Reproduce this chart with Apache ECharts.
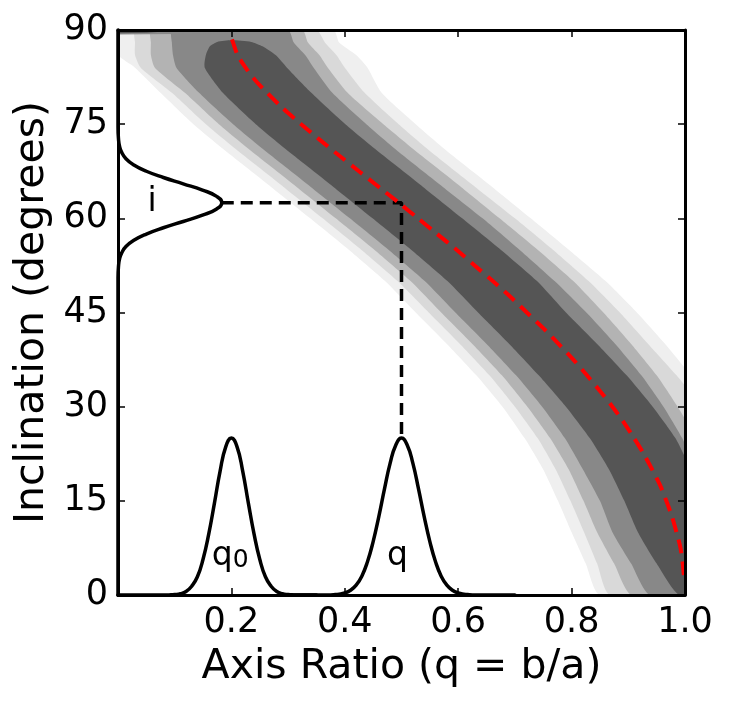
<!DOCTYPE html>
<html><head><meta charset="utf-8">
<script src="https://cdn.jsdelivr.net/npm/echarts@6/dist/echarts.min.js"></script>
<style>html,body{margin:0;padding:0;background:#fff}#c{width:731px;height:704px}</style>
</head><body><div id="c"></div>
<script>
// ---- contour bands (q boundaries at given inclinations) ----
const iRows = [90, 88, 86, 84, 80, 75, 70, 65, 60, 55, 50, 45, 40, 35, 30, 25, 20, 15, 10, 5, 0];
const vlLeft   = [0, 0, 0, .03, .075, .133, .2, .27, .339, .407, .471, .525, .58, .632, .678, .717, .75, .776, .8, .825, .85];
const vlRight  = [.38, .39, .42, .44, .465, .525, .59, .66, .728, .795, .86, .915, .965, 1.01, 1.05, 1.09, 1.12, 1.14, 1.16, 1.17, 1.18];
const ltLeft   = [.03, .03, .03, .04, .095, .155, .222, .292, .361, .429, .493, .548, .603, .655, .7, .74, .772, .798, .822, .845, .868];
const ltRight  = [.35, .365, .385, .40, .435, .495, .56, .63, .70, .767, .83, .885, .935, .985, 1.03, 1.07, 1.1, 1.12, 1.14, 1.15, 1.16];
const mlLeft   = [.058, .058, .058, .065, .118, .178, .245, .315, .384, .452, .516, .57, .625, .677, .722, .762, .795, .821, .845, .875, .906];
const mlRight  = [.325, .335, .355, .37, .405, .468, .535, .605, .673, .74, .803, .856, .905, .95, .987, 1.02, 1.05, 1.08, 1.1, 1.12, 1.13];
const mdLeft   = [.095, .095, .097, .103, .143, .203, .27, .34, .409, .477, .541, .595, .65, .702, .748, .788, .82, .85, .872, .905, .938];
const mdRight  = [.30, .31, .33, .345, .378, .438, .503, .573, .643, .708, .77, .826, .877, .923, .962, .995, 1.02, 1.05, 1.07, 1.08, 1.09];
const darkRows  = [88.4, 88.1, 87.4, 86, 84, 80, 75, 70, 65, 60, 55, 50, 45, 40, 35, 30, 25, 20, 15, 10, 5, 0];
const darkLeft  = [.2, .175, .162, .155, .153, .185, .243, .31, .38, .449, .517, .581, .635, .69, .742, .79, .832, .866, .893, .917, .95, .99];
const darkRight = [.2, .235, .255, .278, .298, .341, .401, .468, .538, .607, .675, .739, .79, .845, .897, .943, .983, 1.01, 1.03, 1.05, 1.06, 1.07];
// thin strip along the top edge
const stripMedQ = [0, .27, .15, 0];
const stripMedI = [90, 90, 89.4, 89.3];
const stripDarkQ = [0, .12, .05, 0];
const stripDarkI = [90, 90, 89.55, 89.5];
const bandColors = ['#efefef', '#d9d9d9', '#b3b3b3', '#888888', '#555555'];

// ---- red dashed relation curve ----
const redQ = [0.201, 0.203, 0.211, 0.225, 0.242, 0.263, 0.291, 0.323, 0.356, 0.39, 0.425, 0.46, 0.495, 0.529, 0.563, 0.597, 0.629, 0.661, 0.692, 0.721, 0.75, 0.777, 0.803, 0.827, 0.85, 0.872, 0.892, 0.91, 0.927, 0.942, 0.956, 0.967, 0.977, 0.985, 0.992, 0.996, 0.999];
const redI = [88.5, 88, 86, 84, 82, 80, 77.5, 75, 72.5, 70, 67.5, 65, 62.5, 60, 57.5, 55, 52.5, 50, 47.5, 45, 42.5, 40, 37.5, 35, 32.5, 30, 27.5, 25, 22.5, 20, 17.5, 15, 12.5, 10, 7.5, 5, 2];

// ---- distribution curves ----
const q0X = [0, .08, .09, .10, .11, .12, .13, .14, .15, .16, .17, .18, .19, .20, .21, .22, .23, .24, .25, .26, .27, .28, .29, .30, .31, .32, .35];
const q0Y = [0, 0, .02, .07, .2, .56, 1.4, 2.9, 5.7, 9.7, 14.6, 19.7, 23.6, 25, 23.6, 19.7, 14.6, 9.7, 5.7, 2.9, 1.4, .56, .2, .07, .02, 0, 0];
const qX = [.30, .36, .37, .38, .39, .40, .41, .42, .43, .44, .45, .46, .47, .48, .49, .50, .51, .52, .53, .54, .55, .56, .57, .58, .59, .60, .61, .62, .63, .64, .70];
const qY = [0, 0, .01, .05, .13, .33, .75, 1.57, 3.0, 5.3, 8.5, 12.5, 16.9, 21.0, 23.9, 25, 23.9, 21.0, 16.9, 12.5, 8.5, 5.3, 3.0, 1.57, .75, .33, .13, .05, .01, 0, 0];
const incI = [0, 50.5, 52.5, 53.5, 54.5, 55.5, 56.5, 57.5, 58.5, 59.5, 60.5, 61.5, 62.5, 63.5, 64.5, 65.5, 66.5, 67.5, 68.5, 69.5, 70.5, 71.5, 72.5, 74.5, 90];
const incX = [0, 0, .001, .0027, .0065, .014, .028, .05, .08, .115, .149, .174, .183, .174, .149, .115, .08, .05, .028, .014, .0065, .0027, .001, 0, 0];
// guide lines
const guideQ = [0.183, 0.5, 0.5];
const guideI = [62.5, 62.5, 25];
// text labels
const labelText = ['i', 'q0', 'q'];
const labelQ = [0.06, 0.198, 0.493];
const labelI = [62.6, 6.1, 6.1];

const xTickLabels = {0: '', 0.2: '0.2', 0.4: '0.4', 0.6: '0.6', 0.8: '0.8', 1: '1.0'};

function bandPoly(rows, left, right) {
  const pts = [];
  for (let k = 0; k < rows.length; k++) pts.push([left[k], rows[k]]);
  for (let k = rows.length - 1; k >= 0; k--) pts.push([right[k], rows[k]]);
  return pts;
}
const polys = [
  {pts: bandPoly(iRows, vlLeft, vlRight), color: bandColors[0], smooth: 0.2},
  {pts: bandPoly(iRows, ltLeft, ltRight), color: bandColors[1], smooth: 0.2},
  {pts: bandPoly(iRows, mlLeft, mlRight), color: bandColors[2], smooth: 0.2},
  {pts: bandPoly(iRows, mdLeft, mdRight), color: bandColors[3], smooth: 0.2},
  {pts: bandPoly(darkRows, darkLeft, darkRight), color: bandColors[4], smooth: 0.2},
  {pts: stripMedQ.map((q, k) => [q, stripMedI[k]]), color: bandColors[3], smooth: 0},
  {pts: stripDarkQ.map((q, k) => [q, stripDarkI[k]]), color: bandColors[4], smooth: 0}
];
const zip = (a, b) => a.map((v, k) => [v, b[k]]);

const FONT = 'DejaVu Sans';
const chart = echarts.init(document.getElementById('c'), null, {renderer: 'canvas'});
const axisCommon = {
  min: 0, axisLine: {show: true, onZero: false, lineStyle: {color: '#000', width: 3}},
  axisTick: {show: true, inside: true, length: 7, lineStyle: {color: '#000', width: 1.5}},
  splitLine: {show: false}, z: 10
};
chart.setOption({
  animation: false,
  backgroundColor: '#fff',
  grid: {left: 118, right: 46, top: 30, bottom: 109, containLabel: false},
  xAxis: [
    Object.assign({}, axisCommon, {type: 'value', position: 'bottom', max: 1, interval: 0.2,
      axisLabel: {show: true, margin: 10, color: '#000', fontFamily: FONT, fontSize: 35,
        formatter: v => (xTickLabels[Math.round(v * 10) / 10] ?? '')},
      name: 'Axis Ratio (q = b/a)', nameLocation: 'middle', nameGap: 52,
      nameTextStyle: {color: '#000', fontFamily: FONT, fontSize: 41}}),
    Object.assign({}, axisCommon, {type: 'value', position: 'top', max: 1, interval: 0.2, axisLabel: {show: false}})
  ],
  yAxis: [
    Object.assign({}, axisCommon, {type: 'value', position: 'left', max: 90, interval: 15,
      axisLabel: {show: true, margin: 10, color: '#000', fontFamily: FONT, fontSize: 35},
      name: 'Inclination (degrees)', nameLocation: 'middle', nameGap: 59, nameRotate: 90,
      nameTextStyle: {color: '#000', fontFamily: FONT, fontSize: 41}}),
    Object.assign({}, axisCommon, {type: 'value', position: 'right', max: 90, interval: 15, axisLabel: {show: false}})
  ],
  series: [
    {
      type: 'custom', silent: true, clip: true, z: 1,
      data: polys.map((p, k) => [0, 0, k]),
      renderItem: (params, api) => {
        const p = polys[params.dataIndex];
        return {type: 'polygon', shape: {points: p.pts.map(pt => api.coord(pt)), smooth: p.smooth},
          style: {fill: p.color, stroke: null}};
      }
    },
    {type: 'line', data: zip(redQ, redI), showSymbol: false, symbol: 'none', smooth: 0.3, z: 4, clip: true,
      lineStyle: {color: '#ff0000', width: 4, type: [14, 8]}},
    {type: 'line', data: zip(guideQ, guideI), symbol: 'none', z: 3,
      lineStyle: {color: '#000', width: 3.5, type: [12, 7]}},
    {type: 'line', data: zip(q0X, q0Y), symbol: 'none', smooth: true, z: 3,
      lineStyle: {color: '#000', width: 3.5, cap: 'round', join: 'round'}},
    {type: 'line', data: zip(qX, qY), symbol: 'none', smooth: true, z: 3,
      lineStyle: {color: '#000', width: 3.5, cap: 'round', join: 'round'}},
    {type: 'line', data: zip(incX, incI), symbol: 'none', smooth: true, z: 3,
      lineStyle: {color: '#000', width: 3.5, cap: 'round', join: 'round'}},
    {type: 'scatter', symbolSize: 0, silent: true, z: 5, itemStyle: {opacity: 1},
      data: labelText.map((t, k) => [labelQ[k], labelI[k], t]),
      label: {show: true, position: 'inside', color: '#000', fontFamily: FONT, fontSize: 33, opacity: 1,
        formatter: p => p.value[2] === 'q0' ? '{a|q}{b|0}' : '{a|' + p.value[2] + '}',
        rich: {a: {fontFamily: FONT, fontSize: 33, color: '#000', verticalAlign: 'bottom'},
               b: {fontFamily: FONT, fontSize: 25, color: '#000', verticalAlign: 'bottom'}}}}
  ]
});
</script></body></html>
